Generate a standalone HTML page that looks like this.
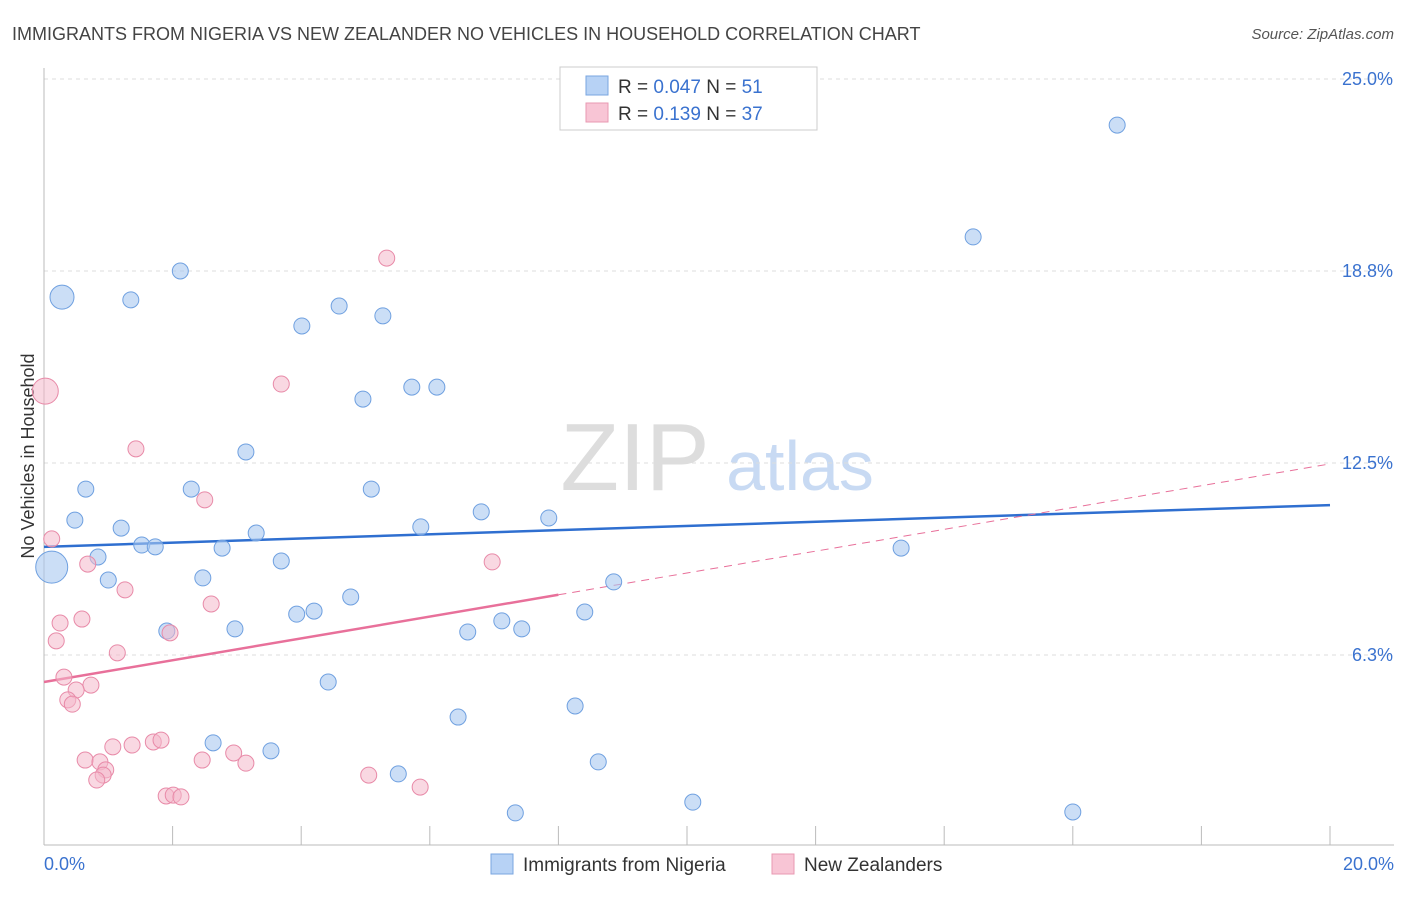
<!DOCTYPE html>
<html><head><meta charset="utf-8">
<style>
body{margin:0;background:#fff;font-family:"Liberation Sans",sans-serif;}
svg text{font-family:"Liberation Sans",sans-serif;}
</style></head>
<body>
<svg id="chart" width="1406" height="892" xmlns="http://www.w3.org/2000/svg">
<text x="12" y="40" font-size="18" fill="#444">IMMIGRANTS FROM NIGERIA VS NEW ZEALANDER NO VEHICLES IN HOUSEHOLD CORRELATION CHART</text>
<text x="1394" y="39" font-size="15" fill="#555" text-anchor="end" font-style="italic">Source: ZipAtlas.com</text>
<text transform="translate(34,456) rotate(-90)" font-size="18" fill="#333" text-anchor="middle">No Vehicles in Household</text>
<g>
<text x="635" y="490" font-size="96" fill="#ddd" text-anchor="middle" font-family="Liberation Serif">ZIP</text>
<text x="800" y="490" font-size="70" fill="#c8daf3" text-anchor="middle">atlas</text>
</g>
<g id="grid"></g><g id="axes"></g><g id="lines"></g><g id="points"></g>
<g>
<rect x="560" y="67" width="257" height="63" fill="#fff" stroke="#ccc"/>
<rect x="586" y="76" width="22" height="19" fill="#b7d2f5" stroke="#7aa6e0"/>
<text x="618" y="93" font-size="19" fill="#333">R = <tspan fill="#3a72cf">0.047</tspan>   N = <tspan fill="#3a72cf">51</tspan></text>
<rect x="586" y="103" width="22" height="19" fill="#f8c5d5" stroke="#e899b2"/>
<text x="618" y="120" font-size="19" fill="#333">R =  <tspan fill="#3a72cf">0.139</tspan>   N = <tspan fill="#3a72cf">37</tspan></text>
</g>
<g>
<rect x="491" y="854" width="22" height="20" fill="#b7d2f5" stroke="#7aa6e0"/>
<text x="523" y="871" font-size="19" fill="#333">Immigrants from Nigeria</text>
<rect x="772" y="854" width="22" height="20" fill="#f8c5d5" stroke="#e899b2"/>
<text x="804" y="871" font-size="19" fill="#333">New Zealanders</text>
</g>
</svg>
<script>
const blueX=[0.28,1.35,2.12,4.01,4.59,5.27,4.96,5.72,6.11,3.14,0.65,2.29,5.09,0.48,1.20,3.30,5.86,6.80,7.85,1.52,1.73,0.84,2.77,0.12,3.69,1.00,2.47,8.86,13.33,4.77,3.93,4.20,1.91,2.97,6.59,7.12,7.43,8.41,4.42,6.44,8.26,2.63,3.53,5.51,8.62,7.33,10.09,16.00,14.45,16.69,11.37];
const blueY=[17.90,17.81,18.75,16.96,17.61,17.29,14.58,14.97,14.97,12.86,11.65,11.65,11.65,10.64,10.38,10.22,10.42,10.91,10.71,9.83,9.77,9.44,9.73,9.11,9.31,8.69,8.76,8.63,9.73,8.14,7.58,7.68,7.03,7.10,7.00,7.36,7.10,7.65,5.37,4.23,4.59,3.39,3.13,2.38,2.77,1.11,1.46,1.14,19.86,23.50,24.97];
const blueW=[2,1,1,1,1,1,1,1,1,1,1,1,1,1,1,1,1,1,1,1,1,1,1,3,1,1,1,1,1,1,1,1,1,1,1,1,1,1,1,1,1,1,1,1,1,1,1,1,1,1,1];
const pinkX=[0.02,5.33,3.69,1.43,2.50,0.12,0.68,1.26,2.60,6.97,0.59,0.25,0.19,1.96,1.14,0.31,0.73,0.50,0.37,0.44,0.64,0.87,1.07,1.37,1.70,1.82,0.96,0.92,0.82,2.46,2.95,3.14,1.90,2.01,2.13,5.05,5.85];
const pinkY=[14.84,19.17,15.07,12.96,11.30,10.03,9.21,8.37,7.91,9.28,7.42,7.29,6.71,6.97,6.32,5.53,5.27,5.11,4.79,4.65,2.83,2.77,3.26,3.32,3.42,3.48,2.51,2.34,2.18,2.83,3.06,2.73,1.66,1.69,1.63,2.34,1.95];
const pinkW=[2,1,1,1,1,1,1,1,1,1,1,1,1,1,1,1,1,1,1,1,1,1,1,1,1,1,1,1,1,1,1,1,1,1,1,1,1];
const yTicks=[6.25,12.5,18.75,25];
const yTickLabels=["6.3%","12.5%","18.8%","25.0%"];
const xTicks=[0,2,4,6,8,10,12,14,16,18,20];
const blueTrend=[9.77,11.13];
const pinkTrend=[5.37,12.47];
const pinkSolidEnd=8;

const NS="http://www.w3.org/2000/svg";
const X0=44,X1=1330,Y0=847,Y25=79;
const sx=v=>X0+(v/20)*(X1-X0);
const sy=v=>Y0-(v/25)*(Y0-Y25);
function mk(tag,attrs,parent){const e=document.createElementNS(NS,tag);for(const k in attrs)e.setAttribute(k,attrs[k]);document.getElementById(parent).appendChild(e);return e;}

yTicks.forEach((t,i)=>{
  const g=mk('line',{x1:X0,x2:1394,y1:sy(t),y2:sy(t),stroke:'#ddd','stroke-dasharray':'4,4'},'grid');
  
  
  const l=mk('text',{x:1393,y:sy(t)+6,'font-size':18,fill:'#3a72cf','text-anchor':'end'},'axes');
  l.textContent=yTickLabels[i];
  
  
});
const ax=mk('line',{x1:X0,x2:1394,y1:845,y2:845,stroke:'#bbb'},'axes');


const ay=mk('line',{x1:X0,x2:X0,y1:68,y2:845,stroke:'#bbb'},'axes');


xTicks.forEach(t=>{
  const k=mk('line',{x1:sx(t),x2:sx(t),y1:826,y2:845,stroke:'#bbb'},'axes');
  
  
});
const xl0=mk('text',{x:44,y:870,'font-size':18,fill:'#3a72cf'},'axes');xl0.textContent=xTicks[0].toFixed(1)+'%';


const xl1=mk('text',{x:1394,y:870,'font-size':18,fill:'#3a72cf','text-anchor':'end'},'axes');xl1.textContent=xTicks[xTicks.length-1].toFixed(1)+'%';



blueX.forEach((v,i)=>{
  const c=mk('circle',{cx:sx(v),cy:sy(blueY[i]),r:blueW[i]==1?8:(blueW[i]==2?12:16),fill:'rgba(168,200,240,0.6)',stroke:'#6fa0e0','stroke-width':1},'points');
  
  
});
pinkX.forEach((v,i)=>{
  const c=mk('circle',{cx:sx(v),cy:sy(pinkY[i]),r:pinkW[i]==1?8:13,fill:'rgba(244,184,203,0.55)',stroke:'#e88aa8','stroke-width':1},'points');
  
  
});
const bl=mk('line',{x1:sx(0),y1:sy(blueTrend[0]),x2:sx(20),y2:sy(blueTrend[1]),stroke:'#2f6fd0','stroke-width':2.5},'lines');


const pAt=v=>pinkTrend[0]+(pinkTrend[1]-pinkTrend[0])*v/20;
const pd=mk('line',{x1:sx(pinkSolidEnd),y1:sy(pAt(pinkSolidEnd)),x2:sx(20),y2:sy(pinkTrend[1]),stroke:'#e8709a','stroke-width':1,'stroke-dasharray':'8,6'},'lines');


const pl=mk('line',{x1:sx(0),y1:sy(pinkTrend[0]),x2:sx(pinkSolidEnd),y2:sy(pAt(pinkSolidEnd)),stroke:'#e8709a','stroke-width':2.5},'lines');


</script>
</body></html>
